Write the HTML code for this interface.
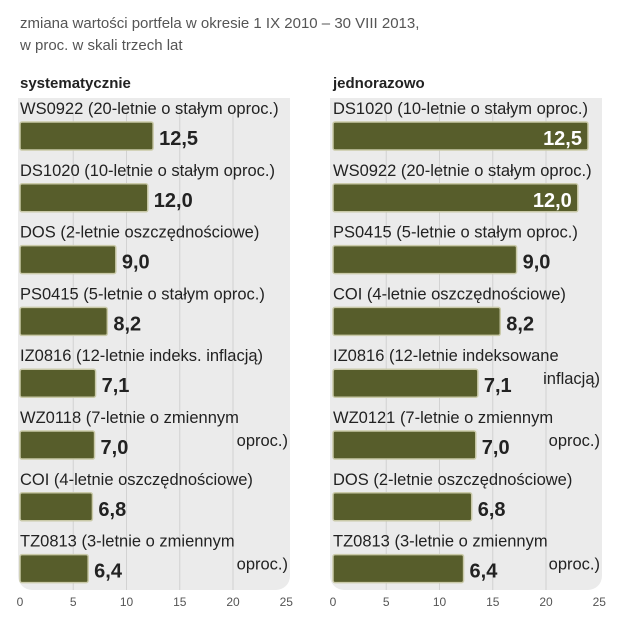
<!DOCTYPE html>
<html><head><meta charset="utf-8"><style>
body{margin:0;background:#fff;}
svg{display:block;font-family:"Liberation Sans",sans-serif;}
</style></head><body>
<svg id="c" width="639" height="640" viewBox="0 0 639 640">
<text x="20" y="28" font-size="15" fill="#555">zmiana wartości portfela w okresie 1 IX 2010 – 30 VIII 2013,</text>
<text x="20" y="50" font-size="15" fill="#555">w proc. w skali trzech lat</text>
<rect x="18" y="98" width="272" height="492" rx="14" fill="#ebebeb"/>
<rect x="330" y="98" width="272" height="492" rx="14" fill="#ebebeb"/>
<rect x="18" y="98" width="272" height="20" fill="#ebebeb"/>
<rect x="330" y="98" width="272" height="20" fill="#ebebeb"/>
<g id="grid"></g>
<text x="20" y="88" font-size="15" font-weight="bold" fill="#222">systematycznie</text>
<text x="333" y="88" font-size="15" font-weight="bold" fill="#222">jednorazowo</text>
<g id="bars"></g>
</svg>
<script>
const ticks=[0,5,10,15,20,25];
const leftLabels=["WS0922 (20-letnie o stałym oproc.)","DS1020 (10-letnie o stałym oproc.)","DOS (2-letnie oszczędnościowe)","PS0415 (5-letnie o stałym oproc.)","IZ0816 (12-letnie indeks. inflacją)","WZ0118 (7-letnie o zmiennym|oproc.)","COI (4-letnie oszczędnościowe)","TZ0813 (3-letnie o zmiennym|oproc.)"];
const leftValues=[12.5,12.0,9.0,8.2,7.1,7.0,6.8,6.4];
const rightLabels=["DS1020 (10-letnie o stałym oproc.)","WS0922 (20-letnie o stałym oproc.)","PS0415 (5-letnie o stałym oproc.)","COI (4-letnie oszczędnościowe)","IZ0816 (12-letnie indeksowane|inflacją)","WZ0121 (7-letnie o zmiennym|oproc.)","DOS (2-letnie oszczędnościowe)","TZ0813 (3-letnie o zmiennym|oproc.)"];
const rightValues=[12.5,12.0,9.0,8.2,7.1,7.0,6.8,6.4];
const NS="http://www.w3.org/2000/svg";
const g=document.getElementById('bars'),gr=document.getElementById('grid');
function el(t,a,p){const e=document.createElementNS(NS,t);for(const k in a)e.setAttribute(k,a[k]);(p||g).appendChild(e);return e;}
function axisL(v){return 20+v*10.65;}
function axisR(v){return 333+v*10.65;}
function barR(v){return 333+v*20.4;}
function rowY(i){return 108+i*61.8;}
function panel(x0,axis,barX,labels,values,side){
  ticks.forEach((t,i)=>{
    if(t>0&&t<25){const l=el('line',{x1:axis(t),x2:axis(t),y1:112,y2:590,stroke:'#d2d2d2','stroke-width':1},gr);
    
    }
    const tx=el('text',{x:axis(t),y:606,'font-size':12,fill:'#555','text-anchor':'middle'});
    tx.textContent=t;
    
    
  });
  labels.forEach((lab,i)=>{
    const y=rowY(i);const parts=lab.split('|');
    const t=el('text',{x:x0,y:y+6,'font-size':16.5,fill:'#222'});
    t.textContent=parts[0];
    
    
    if(parts[1]){const t2=el('text',{x:x0+(side=='left'?268:267),y:y+(parts[1]=='inflacją'?24:29),'font-size':16.5,fill:'#222','text-anchor':'end'});
      t2.textContent=parts[1];
      
      }
    const v=values[i];const xe=barX(v);
    const r=el('rect',{x:x0,y:y+14,width:xe-x0,height:28,rx:2,fill:'#575d2b',stroke:'#c9c9a8','stroke-width':1.5});
    
    
    const inside=side=='right'&&v>=12;
    const vt=el('text',{x:inside?xe-6:xe+6,y:y+37,'font-size':20,'font-weight':'bold',fill:inside?'#fff':'#222','text-anchor':inside?'end':'start'});
    vt.textContent=v.toFixed(1).replace('.',',');
    
    
  });
}
panel(20,axisL,axisL,leftLabels,leftValues,'left');
panel(333,axisR,barR,rightLabels,rightValues,'right');
</script>
</body></html>
